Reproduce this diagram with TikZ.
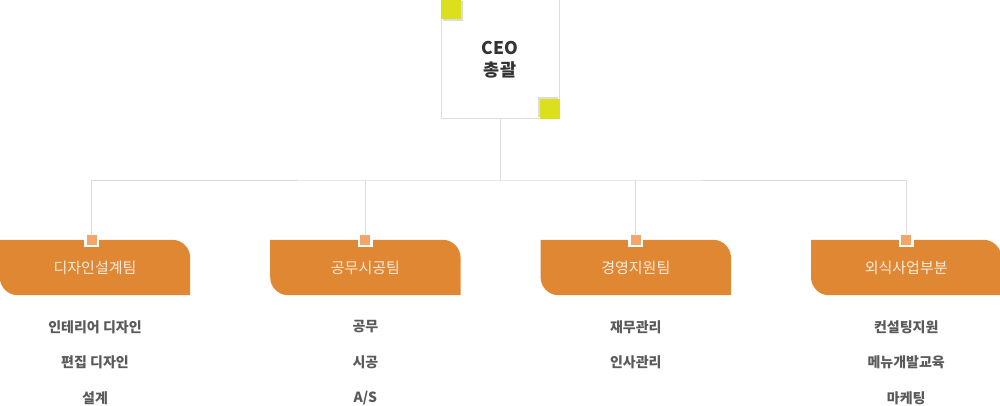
\documentclass[tikz,border=0pt]{standalone}
\usepackage{fontspec}
\setmainfont{Noto Sans CJK KR}
\usepackage{tikz}
\usetikzlibrary{calc,positioning}
\definecolor{linegray}{HTML}{DCDCDC}
\definecolor{teamorange}{HTML}{E08734}
\definecolor{tickorange}{HTML}{F2A66A}
\definecolor{lime}{HTML}{DBE01C}
\definecolor{teamtext}{HTML}{FCEBDD}
\definecolor{subgray}{HTML}{5A5A5A}
\definecolor{ceotext}{HTML}{333333}
\begin{document}
\begin{tikzpicture}[x=1pt,y=1pt,
    link/.style={draw=linegray,line width=1pt},
    ceobox/.style={draw=linegray,line width=1pt,minimum width=118pt,minimum height=119pt,
                   align=center,text=ceotext,font=\bfseries\fontsize{17.5}{22}\selectfont},
    corner/.style={fill=lime,minimum size=20pt,inner sep=0pt,outer sep=0pt},
    teambox/.style={minimum width=190pt,minimum height=55pt,inner sep=0pt,text=teamtext,
                    font=\fontsize{15}{18}\selectfont},
    tick/.style={draw=white,line width=2.5pt,fill=tickorange,minimum size=12.5pt,
                 inner sep=0pt,outer sep=0pt},
    subitem/.style={minimum height=20pt,inner sep=0pt,text=subgray,
                    font=\bfseries\fontsize{14}{16}\selectfont},
    node distance=15pt]

  \useasboundingbox (0,0) rectangle (1000,405);

  \node[ceobox] (ceo) at (500,345.5) {CEO\\총괄};
  \fill[linegray] ($(ceo.north west)+(2,-2)$) rectangle ++(20,-20);
  \node[corner,anchor=north west] (ceonw) at (ceo.north west) {};
  \fill[linegray] ($(ceo.south east)+(-2,2)$) rectangle ++(-20,20);
  \node[corner,anchor=south east] (ceose) at (ceo.south east) {};

  \node[teambox] (design) at (95,137.5) {};
  \node[teambox,right=80pt of design] (build) {};
  \node[teambox,right=80pt of build] (admin) {};
  \node[teambox,right=80pt of admin] (food) {};

  \foreach \t in {design,build,admin,food}
    \fill[teamorange] (\t.north west) -- ([xshift=-18pt]\t.north east)
      arc[start angle=90,end angle=0,radius=18pt] -- (\t.south east)
      -- ([xshift=18pt]\t.south west)
      arc[start angle=270,end angle=180,radius=18pt] -- cycle;

  \node[teambox] at (design) {디자인설계팀};
  \node[teambox] at (build) {공무시공팀};
  \node[teambox] at (admin) {경영지원팀};
  \node[teambox] at (food) {외식사업부분};

  \coordinate (bus) at (500,225);
  \node[tick] (tick1) at ([xshift=-3.5pt]design.north) {};
  \node[tick] (tick2) at (build.north) {};
  \node[tick] (tick3) at (admin.north) {};
  \node[tick] (tick4) at (food.north) {};

  \draw[link] (ceo) -- (bus);
  \draw[link] (tick1.north) |- (bus) -| (tick4.north);
  \draw[link] (tick2.north) -- (tick2.north |- bus);
  \draw[link] (tick3.north) -- (tick3.north |- bus);

  \node[subitem] (design1) at ([yshift=-59.5pt]design.center) {인테리어 디자인};
  \node[subitem,below=of design1] (design2) {편집 디자인};
  \node[subitem,below=of design2] (design3) {설계};

  \node[subitem] (build1) at ([yshift=-59.5pt]build.center) {공무};
  \node[subitem,below=of build1] (build2) {시공};
  \node[subitem,below=of build2] (build3) {A/S};

  \node[subitem] (admin1) at ([yshift=-59.5pt]admin.center) {재무관리};
  \node[subitem,below=of admin1] (admin2) {인사관리};

  \node[subitem] (food1) at ([yshift=-59.5pt]food.center) {컨설팅지원};
  \node[subitem,below=of food1] (food2) {메뉴개발교육};
  \node[subitem,below=of food2] (food3) {마케팅};
\end{tikzpicture}
\end{document}
